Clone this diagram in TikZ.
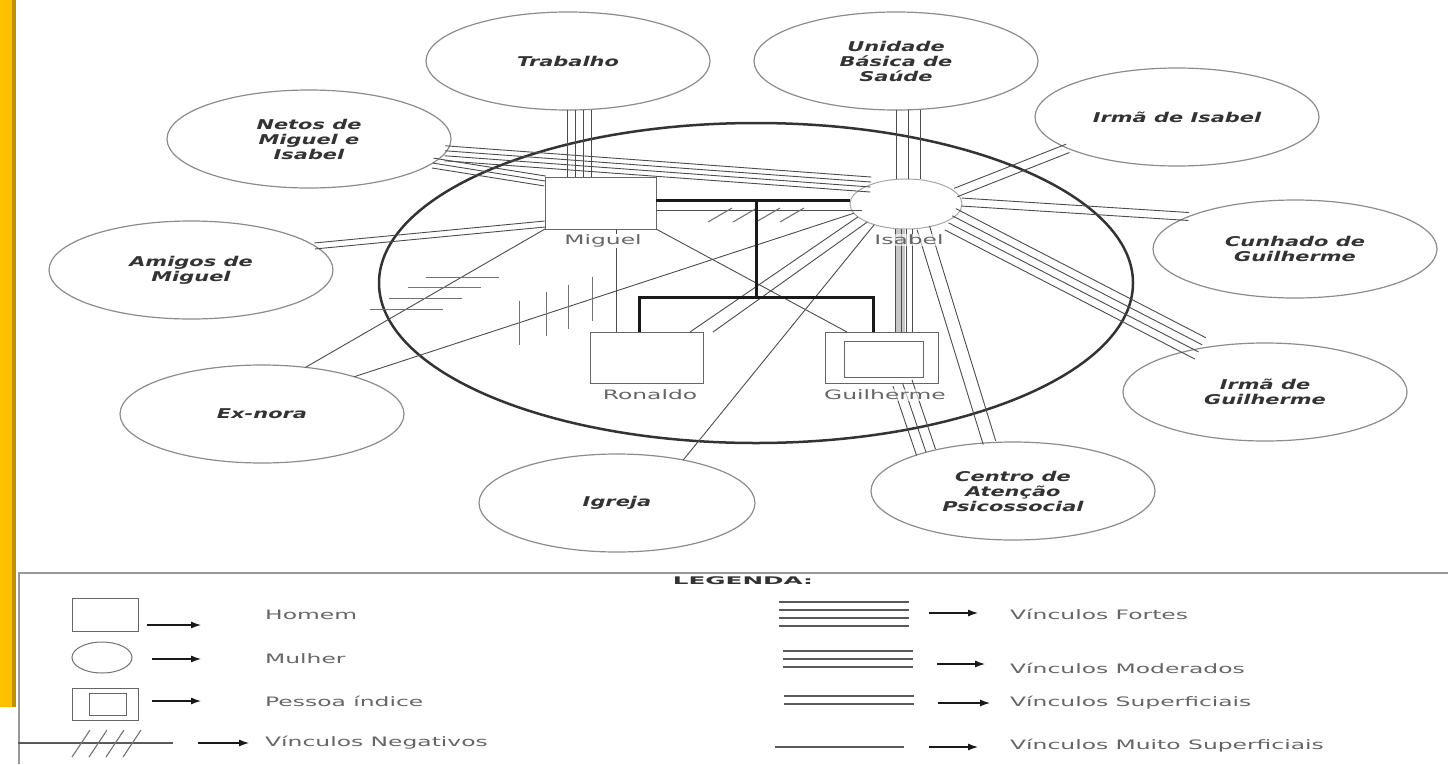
\documentclass[tikz,border=0pt]{standalone}
\usepackage{fontspec}
\usetikzlibrary{shapes.geometric,calc,arrows.meta}
\newfontfamily\lblfont[FakeStretch=1.55]{DejaVu Sans}
\newfontfamily\perfont[FakeStretch=1.8]{DejaVu Sans}
\newfontfamily\legfont[FakeStretch=2.35]{DejaVu Sans}
\definecolor{barY}{HTML}{FFC000}
\definecolor{barD}{HTML}{BF9000}
\newcommand\plines[5]{%
  \foreach \k in {1,...,#1}{%
    \pgfmathsetmacro\plOff{(\k-(#1+1)/2)*#2}%
    \draw[#5] ($(#3)!\plOff pt!90:(#4)$) -- ($(#4)!\plOff pt!-90:(#3)$);%
  }}
\begin{document}
\begin{tikzpicture}[x=1pt,y=-1pt,
  outer/.style={ellipse,draw=black!45,line width=1.2pt,minimum width=284pt,minimum height=98pt,inner sep=0pt,outer sep=0pt,align=center,text=black!80,font=\lblfont\bfseries\itshape\fontsize{13.5}{15}\selectfont},
  man/.style={rectangle,draw=black!60,line width=1pt,inner sep=0pt,outer sep=0pt},
  woman/.style={ellipse,draw=black!35,line width=1pt,inner sep=0pt,outer sep=0pt},
  pname/.style={font=\perfont\fontsize{13}{15}\selectfont,text=black!60,inner sep=0.5pt},
  link/.style={draw=black!70,line width=0.9pt},
  family/.style={draw=black!90,line width=3pt},
  neg/.style={draw=black!55,line width=1.1pt},
  ring/.style={draw=black!80,line width=2.5pt},
  legtext/.style={font=\perfont\fontsize{13}{15}\selectfont,text=black!60,anchor=west,inner sep=0pt},
  legarrow/.style={draw=black!90,line width=1.1pt,-{Latex[length=10pt,width=7pt]}},
  legline/.style={draw=black!65,line width=1.2pt},
]
\useasboundingbox (0,0) rectangle (1448,764);
\fill[white] (0,0) rectangle (1448,764);

% side bar
\fill[barY] (0,0) rectangle (12,707);
\fill[barD] (12,0) rectangle (16,707);

% big ring
\draw[ring] (756,283) ellipse [x radius=377pt, y radius=160pt];

% outer ellipses
\node[outer] (trab) at (568,61) {Trabalho};
\node[outer] (ubs) at (896,61) {Unidade\\Básica de\\Saúde};
\node[outer] (irmai) at (1177,117) {Irmã de Isabel};
\node[outer] (cunh) at (1295,249) {Cunhado de\\Guilherme};
\node[outer] (irmag) at (1265,392) {Irmã de\\Guilherme};
\node[outer] (centro) at (1013,491) {Centro de\\Atenção\\Psicossocial};
\node[outer,minimum width=276pt] (igreja) at (617,503) {Igreja};
\node[outer] (exnora) at (262,414) {Ex-nora};
\node[outer] (amigos) at (191,270) {Amigos de\\Miguel};
\node[outer] (netos) at (309,139) {Netos de\\Miguel e\\Isabel};

% persons
\node[man,minimum width=111pt,minimum height=52pt] (miguel) at (600.5,203) {};
\node[woman,minimum width=112pt,minimum height=50pt] (isabel) at (906,204) {};
\node[man,minimum width=113pt,minimum height=51pt] (ronaldo) at (646.5,357.5) {};
\node[man,minimum width=113pt,minimum height=51pt] (guil) at (881.5,357.5) {};
\node[man,minimum width=79pt,minimum height=36pt] (guilIn) at (883.5,359) {};

% Trabalho - Miguel
\foreach \d in {-1,7,15,23} \draw[link] ($(trab.south)+(\d,0)$) -- ($(trab.south |- miguel.north)+(\d,0)$);
% UBS - Isabel
\foreach \d in {0,12,24} \draw[link] ($(ubs.south)+(\d,0)$) -- ($(ubs.south |- isabel.north)+(\d,0)$);
% Isabel - Guilherme
\fill[black!22] ($(isabel.south)+(-10,0)$) rectangle ($(isabel.south |- guil.north)+(-1,0)$);
\foreach \d in {-11,-5,0,6} \draw[link] ($(isabel.south)+(\d,0)$) -- ($(isabel.south |- guil.north)+(\d,0)$);
% Guilherme - Centro
\coordinate (gcA) at ($(guil.south)+(21,0)$);
\plines{3}{10}{gcA}{centro.156}{link}
% Isabel - Centro
\plines{2}{13}{isabel.-54}{centro.116}{link}
% Isabel - Irma de Guilherme
\plines{4}{8}{isabel.-19}{irmag.146}{link}
% Isabel - Cunhado
\plines{2}{8}{isabel.2}{cunh.163}{link}
% Isabel - Irma de Isabel
\plines{2}{9}{isabel.13}{irmai.196}{link}
% Netos - Isabel
\plines{4}{5}{netos.-6}{isabel.151}{link}
% Netos - Miguel
\coordinate (mgNW) at ($(miguel.north west)+(0,4)$);
\plines{3}{5}{netos.-11}{mgNW}{link}
% Amigos - Miguel
\coordinate (mgSW) at ($(miguel.south west)+(0,-5)$);
\plines{2}{6}{amigos.11}{mgSW}{link}
% Ex-nora - Miguel (negative)
\draw[link] (exnora.47) -- (miguel.south west);
\foreach \t in {0.42,0.5,0.58,0.652}
  \draw[neg] ($(exnora.47)!\t!(miguel.south west)+(-36,0)$) -- ($(exnora.47)!\t!(miguel.south west)+(37,0)$);
% Ex-nora - Isabel (negative)
\draw[link] (exnora.22) -- (isabel.190);
\foreach \t in {0.331,0.385,0.428,0.476}
  \draw[neg] ($(exnora.22)!\t!(isabel.190)+(0,-22)$) -- ($(exnora.22)!\t!(isabel.190)+(0,22)$);
% Miguel - Ronaldo
\draw[link] ($(miguel.south)+(15.5,0)$) -- ($(miguel.south |- ronaldo.north)+(15.5,0)$);
% Miguel - Guilherme
\coordinate (gNWs) at ($(guil.north west)+(22,0)$);
\draw[link] (miguel.south east) -- (gNWs);
% Isabel - Ronaldo
\draw[link] (isabel.195) -- ($(ronaldo.north east)+(-13,0)$);
\draw[link] (isabel.205) -- ($(ronaldo.north east)+(10,0)$);
% Igreja - Isabel
\draw[link] (igreja.33) -- (isabel.213);
% Miguel - Isabel thin + negative marks
\draw[link] ($(miguel.east)+(0,7)$) -- ($(isabel.west)+(12,6)$);
\foreach \c in {720,745,768,792} \draw[neg] (\c-12,222) -- (\c+12,208);
% family lines
\draw[family] ($(miguel.east)+(0,-3)$) -- ($(isabel.west)+(0,-4)$);
\coordinate (mar) at (756,200);
\coordinate (sib) at (756,297);
\draw[family] (mar) -- (sib);
\draw[family] ($(ronaldo.north)+(-7.5,0)$) |- (sib) -| ($(guil.north)+(-8.5,0)$);

% person names
\node[pname,fill=white] (miguelL) at (603,241) {Miguel};
\node[pname,fill=white,fill opacity=0.6,text opacity=1] (isabelL) at (909,240) {Isabel};
\node[pname] (ronaldoL) at (650,395) {Ronaldo};
\node[pname,fill=white,fill opacity=0.6,text opacity=1] (guilL) at (885,395) {Guilherme};

% legend frame
\draw[draw=black!40,line width=1.5pt] (19,764) -- (19,573) -- (1448,573);
\node[font=\legfont\bfseries\fontsize{10.5}{12}\selectfont,text=black!80] (legtitle) at (743,581) {LEGENDA:};

% legend left
\node[man,minimum width=66pt,minimum height=33pt] (lgman) at (105,614.5) {};
\draw[legarrow] (147,625) -- (201,625);
\node[legtext] (tman) at (265,615) {Homem};
\node[woman,draw=black!55,minimum width=60pt,minimum height=31pt] (lgwoman) at (102,657.5) {};
\draw[legarrow] (152,659) -- (201,659);
\node[legtext] (twoman) at (265,659) {Mulher};
\node[man,minimum width=66pt,minimum height=32pt] (lgidx) at (105,704) {};
\node[man,minimum width=37pt,minimum height=22pt] (lgidxIn) at (107.5,704) {};
\draw[legarrow] (152,701) -- (201,701);
\node[legtext] (tidx) at (265,701) {Pessoa índice};
\draw[legline] (18,743) -- (173,743);
\foreach \i in {0,1,2,3} \draw[neg] (72+17*\i,757) -- (90+17*\i,730);
\draw[legarrow] (198,743) -- (249,743);
\node[legtext] (tneg) at (265,743) {Vínculos Negativos};

% legend right
\foreach \y in {602,610,618,626} \draw[legline] (779,\y) -- (909,\y);
\draw[legarrow] (929,613) -- (978,613);
\node[legtext] (tfor) at (1010,614) {Vínculos Fortes};
\foreach \y in {651,659,667} \draw[legline] (783,\y) -- (913,\y);
\draw[legarrow] (937,664) -- (985,664);
\node[legtext] (tmod) at (1010,668) {Vínculos Moderados};
\foreach \y in {696,704} \draw[legline] (784,\y) -- (914,\y);
\draw[legarrow] (938,703) -- (990,703);
\node[legtext] (tsup) at (1010,703) {Vínculos Superficiais};
\draw[legline] (775,747) -- (904,747);
\draw[legarrow] (929,747) -- (978,747);
\node[legtext] (tmsup) at (1010,746) {Vínculos Muito Superficiais};
\end{tikzpicture}
\end{document}
